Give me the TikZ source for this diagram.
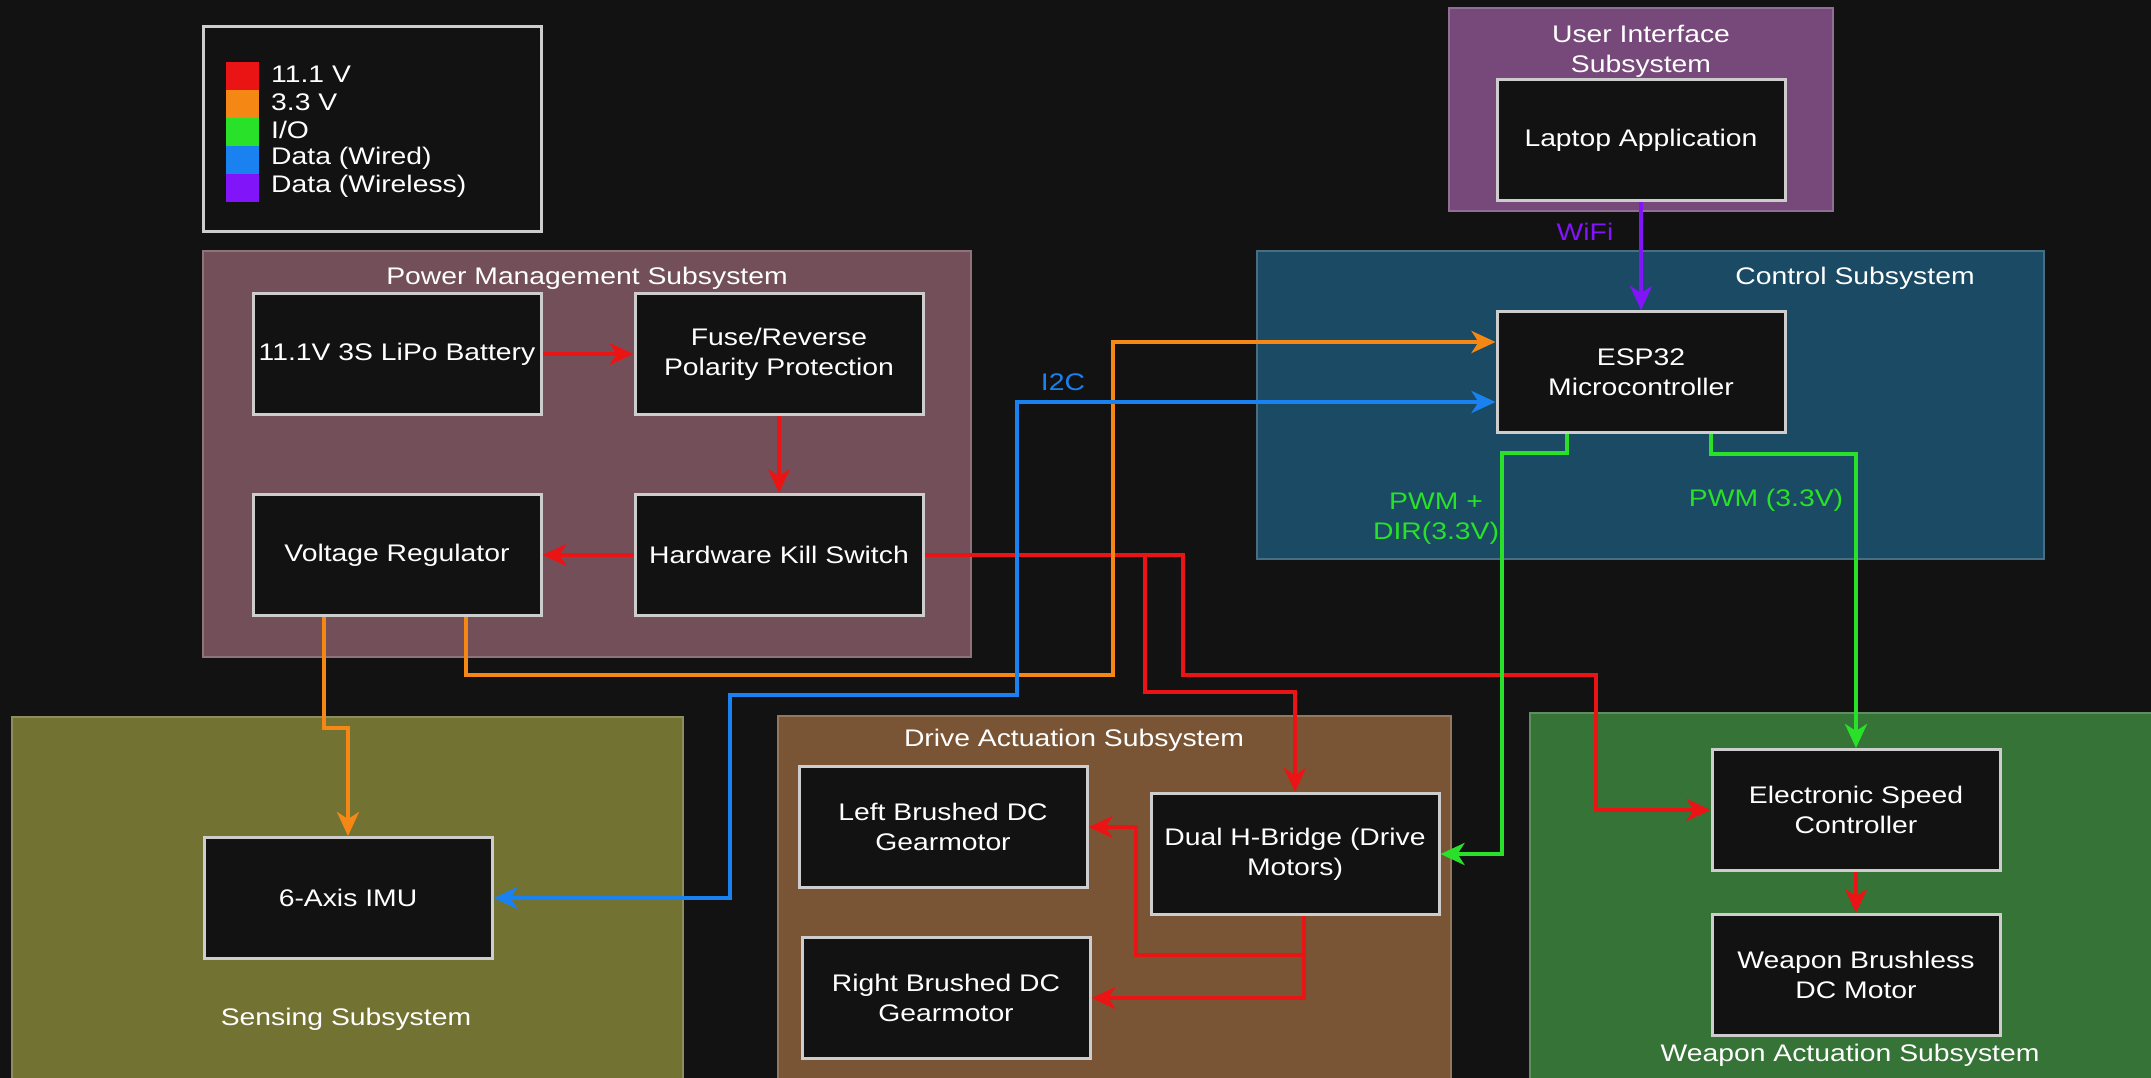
\documentclass[tikz,border=0pt]{standalone}
\usepackage{fontspec}
\setmainfont{Liberation Sans}[FakeStretch=1.18]
\usetikzlibrary{arrows.meta}
\definecolor{bgdark}{RGB}{18,18,18}
\definecolor{linegray}{RGB}{205,205,205}
\definecolor{uipurple}{RGB}{119,73,122}
\definecolor{pwrmauve}{RGB}{115,80,89}
\definecolor{ctrlteal}{RGB}{26,74,100}
\definecolor{senseolive}{RGB}{114,114,51}
\definecolor{drivebrown}{RGB}{122,85,53}
\definecolor{weapgreen}{RGB}{54,115,54}
\definecolor{wred}{RGB}{235,20,20}
\definecolor{worange}{RGB}{245,135,20}
\definecolor{wgreen}{RGB}{40,225,40}
\definecolor{wblue}{RGB}{25,130,240}
\definecolor{wviolet}{RGB}{130,20,250}
\begin{document}
\begin{tikzpicture}[x=1pt,y=-1pt,font=\fontsize{24}{30}\selectfont,
  blok/.style={draw=linegray,line width=3pt,fill=bgdark,text=white,
    minimum width=288,minimum height=121,align=center,inner sep=0pt},
  titel/.style={text=white,align=center},
  wire/.style={line width=4pt,-{Stealth[length=24pt,width=22pt,inset=7pt]}},
  wire2/.style={line width=4pt,{Stealth[length=24pt,width=22pt,inset=7pt]}-{Stealth[length=24pt,width=22pt,inset=7pt]}}]
\useasboundingbox (0,0) rectangle (2151,1078);
\fill[bgdark] (0,0) rectangle (2151,1078);
%
% leyenda
\filldraw[fill=bgdark,draw=linegray,line width=3pt] (203,27) rectangle (541,231);
\foreach \col/\txt [count=\i] in {wred/11.1 V,worange/3.3 V,wgreen/{I/O},%
wblue/Data (Wired),wviolet/Data (Wireless)}{
  \fill[\col] (226,34+28*\i) rectangle (259,62+28*\i);
  \node[anchor=west,text=white,inner sep=0pt] (leg\i) at (271,46+28*\i) {\txt};
}
%
% subsistemas
\filldraw[fill=uipurple,draw=uipurple!80!white,line width=2pt] (1449,8) rectangle (1833,211);
\filldraw[fill=pwrmauve,draw=pwrmauve!80!white,line width=2pt] (203,251) rectangle (971,657);
\filldraw[fill=ctrlteal,draw=ctrlteal!80!white,line width=2pt] (1257,251) rectangle (2044,559);
\filldraw[fill=senseolive,draw=senseolive!80!white,line width=2pt] (12,717) rectangle (683,1095);
\filldraw[fill=drivebrown,draw=drivebrown!80!white,line width=2pt] (778,716) rectangle (1451,1095);
\filldraw[fill=weapgreen,draw=weapgreen!80!white,line width=2pt] (1530,713) rectangle (2170,1095);
\node[titel] (tui) at (1641,51) {User Interface\\Subsystem};
\node[titel] (tpwr) at (587,278) {Power Management Subsystem};
\node[titel] (tctrl) at (1855,278) {Control Subsystem};
\node[titel] (tsense) at (346,1019) {Sensing Subsystem};
\node[titel] (tdrive) at (1074,740) {Drive Actuation Subsystem};
\node[titel] (tweap) at (1850,1055) {Weapon Actuation Subsystem};
%
% bloques
\node[blok] (bat) at (397,354) {11.1V 3S LiPo Battery};
\node[blok] (fuse) at (779,354) {Fuse/Reverse\\Polarity Protection};
\node[blok] (reg) at (397,555) {Voltage Regulator};
\node[blok] (kill) at (779,555) {Hardware Kill Switch};
\node[blok] (laptop) at (1641,140) {Laptop Application};
\node[blok] (esp) at (1641,372) {ESP32\\Microcontroller};
\node[blok] (imu) at (348,898) {6-Axis IMU};
\node[blok] (lmot) at (943,827) {Left Brushed DC\\Gearmotor};
\node[blok] (rmot) at (946,998) {Right Brushed DC\\Gearmotor};
\node[blok] (hbr) at (1295,854) {Dual H-Bridge (Drive\\Motors)};
\node[blok] (esc) at (1856,810) {Electronic Speed\\Controller};
\node[blok] (wmot) at (1856,975) {Weapon Brushless\\DC Motor};
%
% 11.1 V
\draw[wire,wred] (bat.east) -- (fuse.west);
\draw[wire,wred] (fuse.south) -- (kill.north);
\draw[wire,wred] (kill.west) -- (reg.east);
\draw[wire,wred] (kill.east) -| (1183,675) -- (1596,675) |- (esc.west);
\draw[wire,wred] (kill.east) -| (1145,692) -| (hbr.north);
\draw[wire,wred] ([xshift=9]hbr.south) |- (1136,955) |- (lmot.east);
\draw[wire,wred] ([xshift=9]hbr.south) |- (rmot.east);
\draw[wire,wred] (esc.south) -- (wmot.north);
%
% 3.3 V
\draw[wire,worange] ([xshift=-73]reg.south) -- ++(0,111) -| (imu.north);
\draw[wire,worange] ([xshift=69]reg.south) |- (1113,675) |- ([yshift=30]esp.west);
%
% datos
\draw[wire2,wblue] (imu.east) -| (730,695) -- (1017,695) |- ([yshift=-30]esp.west);
\draw[wire,wviolet] (laptop.south) -- (esp.north);
\node[text=wviolet] (wifi) at (1585,232) {WiFi};
\node[text=wblue] (i2c) at (1063,382) {I2C};
%
% I/O
\draw[wire,wgreen] ([xshift=-74]esp.south) |- (1502,453) |- (hbr.east);
\draw[wire,wgreen] ([xshift=70]esp.south) -- ++(0,20) -| (esc.north);
\node[text=wgreen,align=center] (pwmdir) at (1436,519) {PWM +\\DIR(3.3V)};
\node[text=wgreen] (pwm) at (1766,500) {PWM (3.3V)};
\end{tikzpicture}
\end{document}
